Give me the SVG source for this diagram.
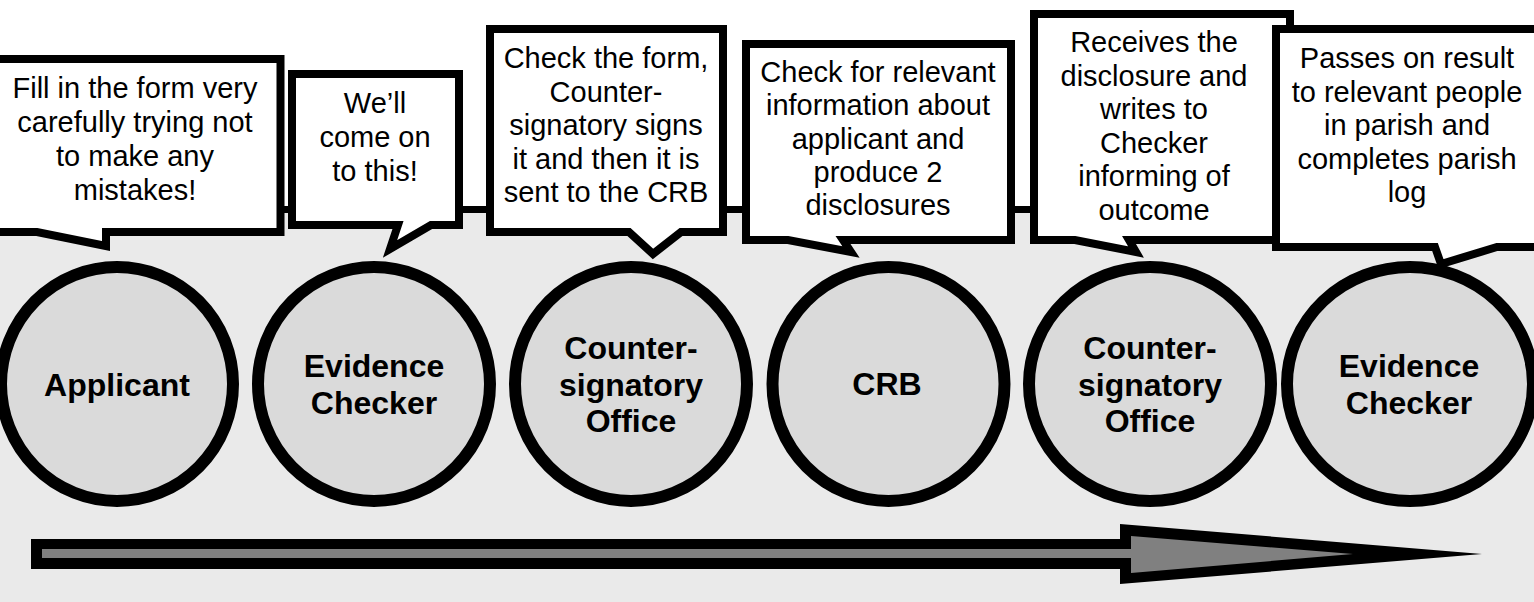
<svg xmlns="http://www.w3.org/2000/svg" width="1534" height="602" viewBox="0 0 1534 602">
<style>
.bg{fill:#EAEAEA;stroke:#000;stroke-width:7}
.node{fill:#DADADA;stroke:#000;stroke-width:12}
.call{fill:#FFF;stroke:#000;stroke-width:8;stroke-linejoin:miter;stroke-miterlimit:8}
.lbl{font-family:"Liberation Sans",Arial,sans-serif;font-weight:bold;font-size:32px;fill:#000;text-anchor:middle}
.ct{font-family:"Liberation Sans",Arial,sans-serif;font-size:29px;fill:#000;text-anchor:middle}
</style>
<rect x="0" y="0" width="1534" height="602" fill="#FFFFFF"/>
<rect class="bg" x="-20" y="209.5" width="1580" height="420"/>

<g id="connectors">
  <path d="M31,539 L1120,539 L1120,524 L1482,554 L1120,584 L1120,569 L31,569 Z" fill="#000"/>
  <path d="M42,549 L1131,549 L1131,536 L1353,554 L1131,573 L1131,558 L42,558 Z" fill="#808080"/>
</g>

<g id="node-applicant">
  <ellipse class="node" cx="117" cy="384" rx="116" ry="117"/>
  <text class="lbl" x="117" y="396">Applicant</text>
</g>
<g id="node-evidence-checker-1">
  <ellipse class="node" cx="374" cy="384" rx="116" ry="117"/>
  <text class="lbl" x="374"><tspan x="374" y="377">Evidence</tspan><tspan x="374" y="414">Checker</tspan></text>
</g>
<g id="node-countersignatory-1">
  <ellipse class="node" cx="631" cy="384" rx="116" ry="117"/>
  <text class="lbl"><tspan x="631" y="359">Counter-</tspan><tspan x="631" y="395.5">signatory</tspan><tspan x="631" y="432">Office</tspan></text>
</g>
<g id="node-crb">
  <ellipse class="node" cx="888.5" cy="384" rx="116" ry="117"/>
  <text class="lbl" x="887" y="395">CRB</text>
</g>
<g id="node-countersignatory-2">
  <ellipse class="node" cx="1150" cy="384" rx="121" ry="117"/>
  <text class="lbl"><tspan x="1150" y="359">Counter-</tspan><tspan x="1150" y="395.5">signatory</tspan><tspan x="1150" y="432">Office</tspan></text>
</g>
<g id="node-evidence-checker-2">
  <ellipse class="node" cx="1410" cy="384" rx="123" ry="117"/>
  <text class="lbl"><tspan x="1409" y="377">Evidence</tspan><tspan x="1409" y="414">Checker</tspan></text>
</g>

<g id="callout-1">
  <path class="call" d="M-10,59 L280.5,59 L280.5,232 L106,232 L106,246 L37,232 L-10,232 Z"/>
  <text class="ct"><tspan x="135" y="98">Fill in the form very</tspan><tspan x="135" y="132">carefully trying not</tspan><tspan x="135" y="166">to make any</tspan><tspan x="135" y="199.5">mistakes!</tspan></text>
</g>
<g id="callout-2">
  <path class="call" d="M292,74 L459,74 L459,225 L431,225 L390,249 L398,225 L292,225 Z"/>
  <text class="ct"><tspan x="375" y="113">We’ll</tspan><tspan x="375" y="147">come on</tspan><tspan x="375" y="180.5">to this!</tspan></text>
</g>
<g id="callout-3">
  <path class="call" d="M490,29 L723,29 L723,232 L681,232 L653,254 L629,232 L490,232 Z"/>
  <text class="ct"><tspan x="606" y="68">Check the form,</tspan><tspan x="606" y="101.5">Counter-</tspan><tspan x="606" y="135">signatory signs</tspan><tspan x="606" y="168.5">it and then it is</tspan><tspan x="606" y="202">sent to the CRB</tspan></text>
</g>
<g id="callout-4">
  <path class="call" d="M746,44 L1011,44 L1011,240 L843,240 L851,252 L788,240 L746,240 Z"/>
  <text class="ct"><tspan x="878" y="82">Check for relevant</tspan><tspan x="878" y="115">information about</tspan><tspan x="878" y="148.5">applicant and</tspan><tspan x="878" y="182">produce 2</tspan><tspan x="878" y="215">disclosures</tspan></text>
</g>
<g id="callout-5">
  <path class="call" d="M1034,14 L1290,14 L1290,240 L1129,240 L1136,252 L1075,240 L1034,240 Z"/>
  <text class="ct"><tspan x="1154" y="52">Receives the</tspan><tspan x="1154" y="86">disclosure and</tspan><tspan x="1154" y="119">writes to</tspan><tspan x="1154" y="153">Checker</tspan><tspan x="1154" y="186">informing of</tspan><tspan x="1154" y="220">outcome</tspan></text>
</g>
<g id="callout-6">
  <path class="call" d="M1276,29 L1560,29 L1560,247 L1497,247 L1441,264 L1435,247 L1276,247 Z"/>
  <text class="ct"><tspan x="1407" y="68">Passes on result</tspan><tspan x="1407" y="101.5">to relevant people</tspan><tspan x="1407" y="135">in parish and</tspan><tspan x="1407" y="168.5">completes parish</tspan><tspan x="1407" y="202">log</tspan></text>
</g>
</svg>
